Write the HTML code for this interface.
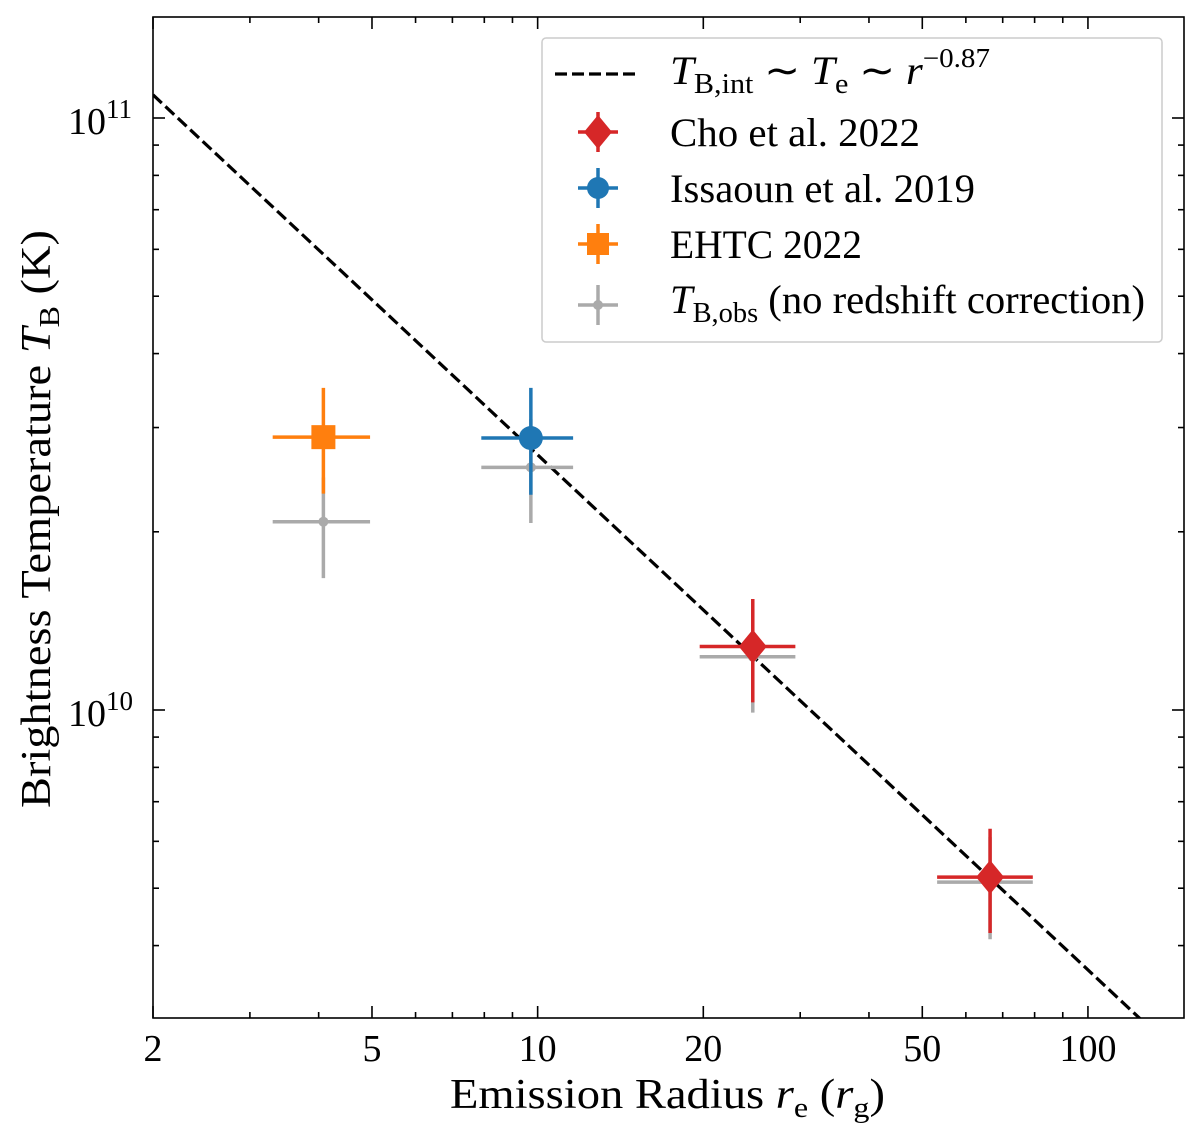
<!DOCTYPE html>
<html><head><meta charset="utf-8"><style>
body{margin:0;background:#fff}
svg text{font-family:"Liberation Serif",serif;fill:#000}
</style></head><body>
<svg id="chart" width="1200" height="1142" xmlns="http://www.w3.org/2000/svg"></svg>
<script>
const seriesNames=["EHTC 2022","Issaoun et al. 2019","Cho et al. 2022","Cho et al. 2022"];
const radii=[4.08,9.72,24.6,66.4];
const radLo=[3.3,7.9,19.7,53.2];
const radHi=[4.96,11.6,29.4,79.4];
const tbInt=[2.89e10,2.88e10,1.28e10,5.22e9];
const tbIntLo=[2.32e10,2.31e10,1.03e10,4.2e9];
const tbIntHi=[3.5e10,3.5e10,1.54e10,6.3e9];
const tbObs=[2.08e10,2.57e10,1.23e10,5.12e9];
const tbObsLo=[1.67e10,2.07e10,0.99e10,4.1e9];
const tbObsHi=[2.47e10,3.1e10,1.48e10,6.1e9];
const xTicks=[2,5,10,20,50,100];
const xTickLabels=["2","5","10","20","50","100"];
const fitSlope=-0.87;
const fitLogA=11.301;

const svg=document.getElementById('chart');
const NS='http://www.w3.org/2000/svg';
const L=153,R=1184,T=17,B=1018;
const X=v=>153+(Math.log10(v)-Math.log10(2))*550.3;
const Y=v=>118+(11-Math.log10(v))*592;
function mk(tag,attrs,parent){const e=document.createElementNS(NS,tag);for(const k in attrs)e.setAttribute(k,attrs[k]);(parent||svg).appendChild(e);return e;}
const colors=["#ff7f0e","#1f77b4","#d62728","#d62728"];
const markers=["square","circle","diamond","diamond"];

const clip=mk('clipPath',{id:'pc'});mk('rect',{x:L,y:T,width:R-L,height:B-T},clip);

const fit=mk('line',{x1:X(2),y1:Y(Math.pow(10,fitLogA)*Math.pow(2,fitSlope)),x2:X(200),y2:Y(Math.pow(10,fitLogA)*Math.pow(200,fitSlope)),stroke:'#000','stroke-width':3.2,'stroke-dasharray':'12,5','clip-path':'url(#pc)'});



for(let i=0;i<radii.length;i++){
  const g=mk('g',{stroke:'#aaaaaa','stroke-width':3.5});
  
  
  mk('line',{x1:X(radLo[i]),x2:X(radHi[i]),y1:Y(tbObs[i]),y2:Y(tbObs[i])},g);
  mk('line',{x1:X(radii[i]),x2:X(radii[i]),y1:Y(tbObsLo[i]),y2:Y(tbObsHi[i])},g);
  mk('circle',{cx:X(radii[i]),cy:Y(tbObs[i]),r:5,fill:'#aaaaaa',stroke:'none'},g);
}
for(let i=0;i<radii.length;i++){
  const c=colors[i];
  const g=mk('g',{stroke:c,'stroke-width':3.5});
  
  
  const cx=X(radii[i]),cy=Y(tbInt[i]);
  mk('line',{x1:X(radLo[i]),x2:X(radHi[i]),y1:cy,y2:cy},g);
  mk('line',{x1:cx,x2:cx,y1:Y(tbIntLo[i]),y2:Y(tbIntHi[i])},g);
  if(markers[i]=='square')mk('rect',{x:cx-12,y:cy-12,width:24,height:24,fill:c,stroke:'none'},g);
  else if(markers[i]=='circle')mk('circle',{cx:cx,cy:cy,r:12,fill:c,stroke:'none'},g);
  else mk('polygon',{points:`${cx},${cy-17} ${cx+14},${cy} ${cx},${cy+17} ${cx-14},${cy}`,fill:c,stroke:'none'},g);
}

const ax=mk('g',{stroke:'#000','stroke-width':1.6});


mk('rect',{x:L,y:T,width:R-L,height:B-T,fill:'none'},ax);
for(let d=1;d<=100;d*=10)for(let m=1;m<10;m++){const v=m*d;if(v<2||v>149)continue;const x=X(v);const maj=xTicks.includes(v);const len=maj?12:6;
  mk('line',{x1:x,x2:x,y1:B,y2:B-len},ax);mk('line',{x1:x,x2:x,y1:T,y2:T+len},ax);}
for(const d of [1e9,1e10,1e11])for(let m=1;m<10;m++){const v=m*d;const y=Y(v);if(y<T||y>B)continue;const len=m==1?12:6;
  mk('line',{x1:L,x2:L+len,y1:y,y2:y},ax);mk('line',{x1:R,x2:R-len,y1:y,y2:y},ax);}
xTicks.forEach((v,i)=>{const t=mk('text',{x:X(v),y:1061,'font-size':38,'text-anchor':'middle'});t.textContent=xTickLabels[i];
  
  });
</script>
<svg style="position:absolute;left:0;top:0" width="1200" height="1142" xmlns="http://www.w3.org/2000/svg" font-family="Liberation Serif, serif">
<text x="68" y="134" font-size="38">10<tspan dy="-16" font-size="27">11</tspan></text>
<text x="68" y="726" font-size="38">10<tspan dy="-16" font-size="27">10</tspan></text>
<text x="450" y="1108" font-size="42" textLength="435" lengthAdjust="spacingAndGlyphs">Emission Radius <tspan font-style="italic">r</tspan><tspan font-size="29" dy="9">e</tspan><tspan dy="-9"> (</tspan><tspan font-style="italic">r</tspan><tspan font-size="29" dy="9">g</tspan><tspan dy="-9">)</tspan></text>
<text transform="translate(50,808) rotate(-90)" font-size="42" textLength="578" lengthAdjust="spacingAndGlyphs">Brightness Temperature <tspan font-style="italic">T</tspan><tspan font-size="29" dy="9">B</tspan><tspan dy="-9"> (K)</tspan></text>
<g>
<rect x="542" y="38" width="620" height="304" rx="4" fill="#fff" stroke="#ccc" stroke-width="1.5"/>
<line x1="555" y1="74" x2="636" y2="74" stroke="#000" stroke-width="3.2" stroke-dasharray="12,5"/>
<text x="670" y="84" font-size="40" textLength="320" lengthAdjust="spacingAndGlyphs"><tspan font-style="italic">T</tspan><tspan font-size="28" dy="9">B,int</tspan><tspan dy="-9"> ∼ </tspan><tspan font-style="italic">T</tspan><tspan font-size="28" dy="9">e</tspan><tspan dy="-9"> ∼ </tspan><tspan font-style="italic">r</tspan><tspan font-size="27" dy="-17">−0.87</tspan></text>
<g stroke="#d62728" stroke-width="3.5"><line x1="578" x2="618" y1="132" y2="132"/><line x1="598" x2="598" y1="112" y2="152"/><polygon points="598,115 612,132 598,149 584,132" fill="#d62728" stroke="none"/></g>
<text x="670" y="146" font-size="40" textLength="250" lengthAdjust="spacingAndGlyphs">Cho et al. 2022</text>
<g stroke="#1f77b4" stroke-width="3.5"><line x1="578" x2="618" y1="188" y2="188"/><line x1="598" x2="598" y1="168" y2="208"/><circle cx="598" cy="188" r="11" fill="#1f77b4" stroke="none"/></g>
<text x="670" y="202" font-size="40" textLength="305" lengthAdjust="spacingAndGlyphs">Issaoun et al. 2019</text>
<g stroke="#ff7f0e" stroke-width="3.5"><line x1="578" x2="618" y1="244" y2="244"/><line x1="598" x2="598" y1="224" y2="264"/><rect x="587" y="233" width="22" height="22" fill="#ff7f0e" stroke="none"/></g>
<text x="670" y="258" font-size="40" textLength="192" lengthAdjust="spacingAndGlyphs">EHTC 2022</text>
<g stroke="#aaa" stroke-width="3.5"><line x1="578" x2="618" y1="305" y2="305"/><line x1="598" x2="598" y1="285" y2="325"/><circle cx="598" cy="305" r="5" fill="#aaa" stroke="none"/></g>
<text x="670" y="313" font-size="40" textLength="475" lengthAdjust="spacingAndGlyphs"><tspan font-style="italic">T</tspan><tspan font-size="28" dy="9">B,obs</tspan><tspan dy="-9"> (no redshift correction)</tspan></text>
</g>
</svg>
</body></html>
